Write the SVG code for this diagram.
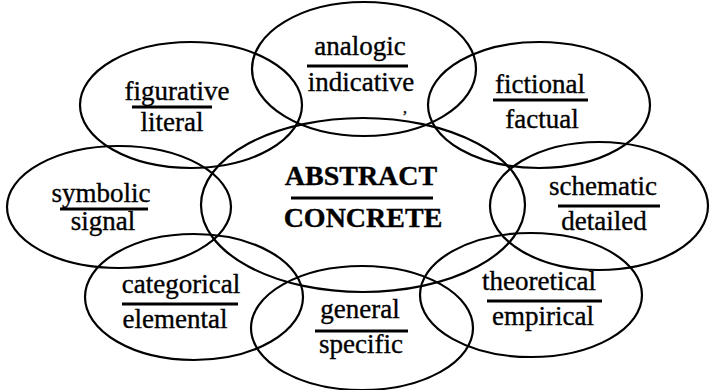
<svg xmlns="http://www.w3.org/2000/svg" width="711" height="390" viewBox="0 0 711 390">
<style>
.e{fill:none;stroke:#000;stroke-width:2.2}
.t{font-family:"Liberation Serif","Times New Roman",serif;font-size:27px;fill:#000;stroke:#000;stroke-width:0.35;text-anchor:middle}
.b{font-weight:bold;font-size:28px}
.u{stroke:#000;stroke-width:3}
</style>
<rect width="711" height="390" fill="#fff"/>
<g id="shapes">
<ellipse class="e" cx="364" cy="69" rx="112" ry="67"/>
<ellipse class="e" cx="191" cy="105" rx="111" ry="63"/>
<ellipse class="e" cx="539" cy="105" rx="111" ry="63"/>
<ellipse class="e" cx="119" cy="207" rx="112" ry="61"/>
<ellipse class="e" cx="599" cy="206" rx="109" ry="64"/>
<ellipse class="e" cx="194" cy="297" rx="109" ry="63"/>
<ellipse class="e" cx="531" cy="295" rx="111" ry="62"/>
<ellipse class="e" cx="362" cy="328" rx="111" ry="62"/>
<ellipse class="e" cx="363" cy="205" rx="162" ry="87"/>
</g>
<g id="center">
<text class="t b" x="361" y="185">ABSTRACT</text>
<line class="u" x1="291" y1="198" x2="433" y2="198"/>
<text class="t b" x="363" y="227">CONCRETE</text>
</g>
<g id="analogic">
<text class="t" x="360" y="55">analogic</text>
<line class="u" x1="307" y1="66" x2="408" y2="66"/>
<text class="t" x="361" y="91">indicative</text>
<text class="t" x="405" y="113" style="font-size:16px">,</text>
</g>
<g id="figurative">
<text class="t" x="177" y="100">figurative</text>
<line class="u" x1="132" y1="107" x2="212" y2="107"/>
<text class="t" x="172" y="131">literal</text>
</g>
<g id="fictional">
<text class="t" x="540" y="93">fictional</text>
<line class="u" x1="493" y1="100" x2="588" y2="100"/>
<text class="t" x="542" y="128">factual</text>
</g>
<g id="symbolic">
<text class="t" x="101" y="202">symbolic</text>
<line class="u" x1="60" y1="209" x2="148" y2="209"/>
<text class="t" x="103" y="230">signal</text>
</g>
<g id="schematic">
<text class="t" x="603" y="195">schematic</text>
<line class="u" x1="558" y1="206" x2="660" y2="206"/>
<text class="t" x="604" y="230">detailed</text>
</g>
<g id="categorical">
<text class="t" x="181" y="293">categorical</text>
<line class="u" x1="122" y1="304" x2="238" y2="304"/>
<text class="t" x="175" y="328">elemental</text>
</g>
<g id="theoretical">
<text class="t" x="539" y="290">theoretical</text>
<line class="u" x1="487" y1="301" x2="602" y2="301"/>
<text class="t" x="543" y="325">empirical</text>
</g>
<g id="general">
<text class="t" x="360" y="318">general</text>
<line class="u" x1="315" y1="331" x2="408" y2="331"/>
<text class="t" x="361" y="353">specific</text>
</g>
</svg>
